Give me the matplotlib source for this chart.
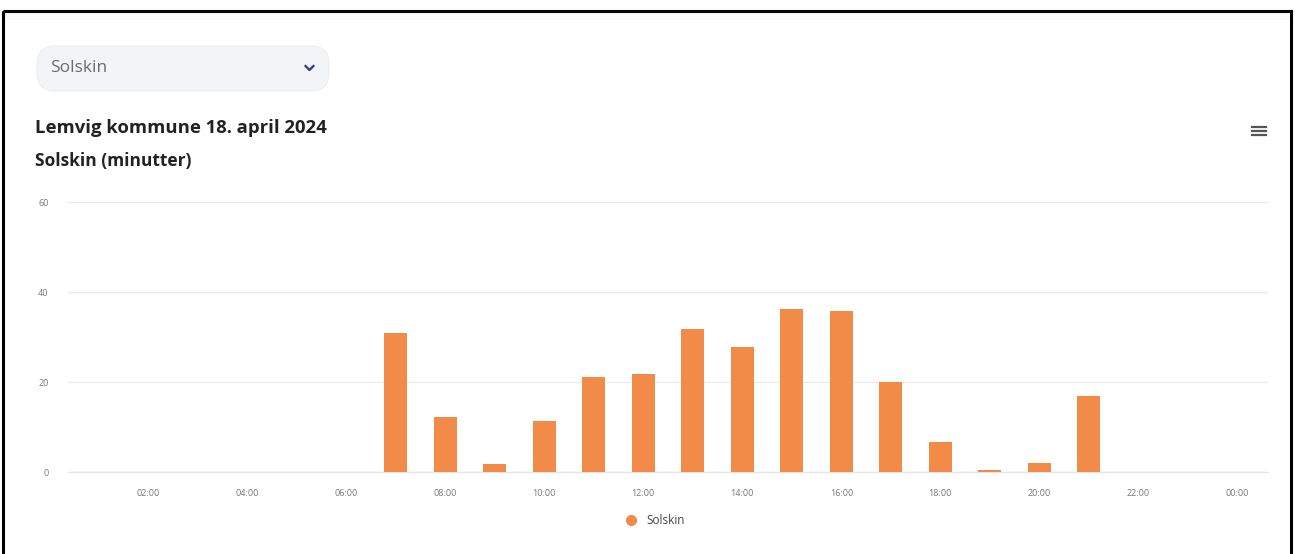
import matplotlib.pyplot as plt
from matplotlib.patches import FancyBboxPatch, Rectangle
from matplotlib.lines import Line2D

plt.rcParams['font.family'] = ['Open Sans', 'DejaVu Sans']

# data: sunshine minutes per hour, Lemvig kommune 18. april 2024
hours = ['01:00', '02:00', '03:00', '04:00', '05:00', '06:00', '07:00', '08:00',
         '09:00', '10:00', '11:00', '12:00', '13:00', '14:00', '15:00', '16:00',
         '17:00', '18:00', '19:00', '20:00', '21:00', '22:00', '23:00', '00:00']
solskin = [0, 0, 0, 0, 0, 0, 31, 12.2, 1.8, 11.3, 21.2, 21.8, 31.7, 27.7,
           36.3, 35.7, 20, 6.7, 0.5, 2, 16.9, 0, 0, 0]
y_ticks = [0, 20, 40, 60]

bar_color = '#f28b47'
W, H = 1295, 554

fig = plt.figure(figsize=(W / 100, H / 100), dpi=100)
fig.patch.set_facecolor('white')

# overlay in pixel coordinates for the page decorations
deco = fig.add_axes([0, 0, 1, 1], zorder=-1)
deco.set_xlim(0, W)
deco.set_ylim(H, 0)
deco.axis('off')

deco.add_patch(Rectangle((5, 12), 1284, 8, facecolor='#f7f8f9',
                         edgecolor='none'))
deco.add_patch(Rectangle((3, 11), 1288, 560, fill=False, edgecolor='black',
                         linewidth=2.2, clip_on=False))

# dropdown
deco.add_patch(FancyBboxPatch((37, 46), 292, 45,
                              boxstyle='round,pad=0,rounding_size=18',
                              facecolor='#f3f4f6', edgecolor='#eeeeef',
                              linewidth=0.8))
deco.text(50, 68, 'Solskin', fontsize=12.5, color='#6b6b6b',
          va='center', ha='left')
deco.plot([305.5, 309.5, 313.5], [66, 70, 66], color='#2b3a8c', linewidth=1.6)

# titles
deco.text(35, 128, 'Lemvig kommune 18. april 2024', fontsize=13.3,
          fontweight='bold', color='#222222', va='center', ha='left')
deco.text(35, 161, 'Solskin (minutter)', fontsize=12.5,
          fontweight='bold', color='#222222', va='center', ha='left')

# hamburger menu icon
for yy in (127, 131, 135):
    deco.plot([1252, 1266], [yy, yy], color='#555555', linewidth=1.6)

ax = fig.add_axes([68 / W, 1 - 472 / H, 1200 / W, 270 / H])
ax.patch.set_alpha(0)
x = list(range(len(hours)))
ax.bar(x, solskin, width=0.46, color=bar_color, zorder=3, label='Solskin')

ax.set_ylim(0, 60)
ax.set_xlim(-0.62, 23.62)
ax.set_yticks(y_ticks)
ax.set_yticklabels([str(v) for v in y_ticks], fontsize=6.5, color='#777777')
ax.set_xticks(x[1::2])
ax.set_xticklabels(hours[1::2], fontsize=6.5, color='#777777')
ax.tick_params(axis='both', length=0)
ax.tick_params(axis='y', pad=14)
ax.tick_params(axis='x', pad=12)
ax.grid(axis='y', color='#ebebeb', linewidth=1, zorder=0)
for s in ['top', 'right', 'left']:
    ax.spines[s].set_visible(False)
ax.spines['bottom'].set_color('#e3e6ec')
ax.spines['bottom'].set_linewidth(1)

handle = Line2D([], [], marker='o', linestyle='none', markersize=7,
                color=bar_color)
fig.legend([handle], ['Solskin'], loc='center',
           bbox_to_anchor=(652 / W, 1 - 521 / H), frameon=False,
           fontsize=8.5, handletextpad=0.3, labelcolor='#444444')

fig.savefig('out.png', dpi=100)
